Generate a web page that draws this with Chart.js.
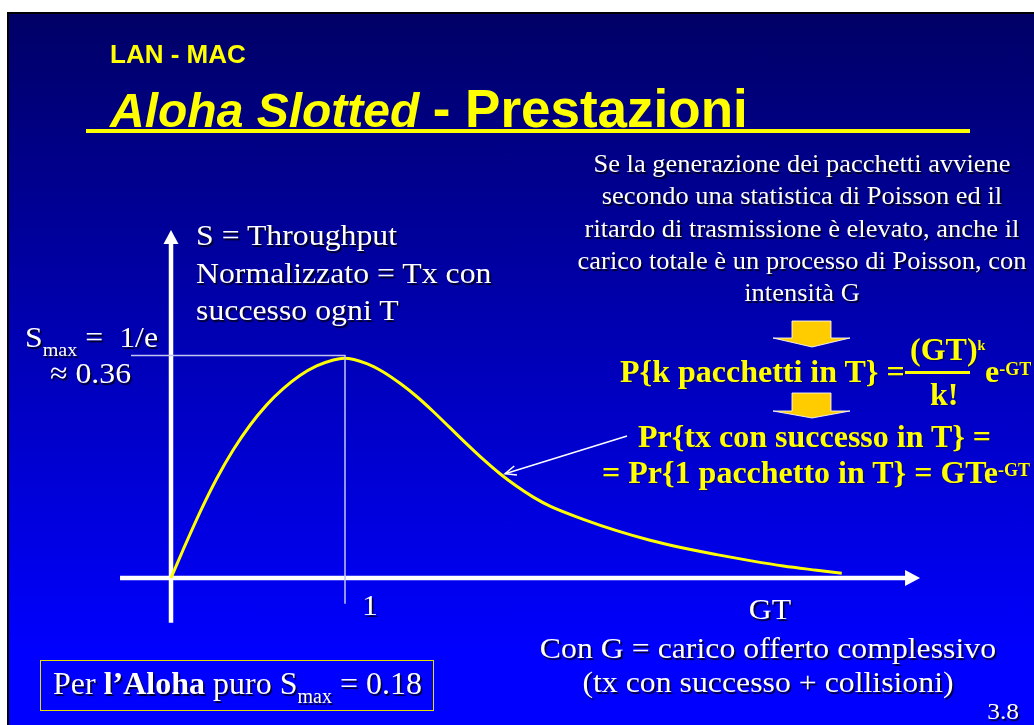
<!DOCTYPE html>
<html>
<head>
<meta charset="utf-8">
<script src="https://cdn.jsdelivr.net/npm/chart.js@4.4.1/dist/chart.umd.min.js"></script>
<style>
  html, body { margin: 0; padding: 0; width: 1034px; height: 725px; overflow: hidden; background: #fff; }
  #slide { position: absolute; left: 7px; top: 12px; right: 0; bottom: 0;
    border-left: 2px solid #000; border-top: 2px solid #000;
    background: linear-gradient(180deg, #000066 0%, #0000ff 90%); }
  #c { position: absolute; left: 0; top: 0; }
  .t { position: absolute; white-space: nowrap; }
  .sans { font-family: 'Liberation Sans', Arial, sans-serif; font-weight: bold; color: #ffff00; }
  .w { font-family: 'Liberation Serif', 'Times New Roman', serif; color: #fff;
    text-shadow: 1.5px 1.5px 1px rgba(0,0,0,0.85); transform: scaleX(1.06); transform-origin: left top; }
  .wc { text-align: center; transform-origin: center top; }
  .y { font-family: 'Liberation Serif', 'Times New Roman', serif; font-weight: bold; color: #ffff00;
    font-size: 32px; line-height: 40px; text-shadow: 1px 1px 1px rgba(0,0,60,0.6); }
  .sub, .sup { line-height: 0; }
</style>
</head>
<body>
<div id="slide"></div>
<canvas id="c" width="1034" height="725"></canvas>

<div class="t sans" style="left:110px; top:39px; font-size:26px; line-height:30px;">LAN - MAC</div>
<div class="t sans" style="left:110px; top:79px; font-size:53px; line-height:60px;"><i style="font-size:48px">Aloha Slotted </i>- Prestazioni</div>
<div class="t" style="left:86px; top:129px; width:884px; height:4px; background:#ffff00;"></div>

<div class="t w" style="left:196px; top:216px; font-size:30px; line-height:37.5px;">S = Throughput<br>Normalizzato = Tx con<br>successo ogni T</div>
<div class="t w" style="left:25px; top:319px; font-size:30px; line-height:36px;">S<span class="sub" style="font-size:19px; vertical-align:-9px">max</span> =&nbsp; 1/e</div>
<div class="t w" style="left:50px; top:355px; font-size:30px; line-height:36px;">≈ 0.36</div>
<div class="t w" style="left:362px; top:587px; font-size:30px; line-height:36px;">1</div>
<div class="t w wc" style="left:670px; top:591px; width:200px; font-size:30px; line-height:36px;">GT</div>
<div class="t w wc" style="left:468px; top:631px; width:600px; font-size:30px; line-height:34px;">Con G = carico offerto complessivo<br>(tx con successo + collisioni)</div>
<div class="t w wc" style="left:562px; top:148px; width:480px; font-size:25px; line-height:32.3px;">Se la generazione dei pacchetti avviene<br>secondo una statistica di Poisson ed il<br>ritardo di trasmissione è elevato, anche il<br>carico totale è un processo di Poisson, con<br>intensità G</div>

<div class="t" style="left:40px; top:660px; width:392px; height:49px; border:1.5px solid #e6e000;"></div>
<div class="t w" style="left:53px; top:663px; font-size:32px; line-height:40px; transform:none;">Per <b>l’Aloha</b> puro S<span class="sub" style="font-size:20px; vertical-align:-9px">max</span> = 0.18</div>
<div class="t w" style="right:15px; top:696px; font-size:24px; line-height:30px; transform-origin:right top;">3.8</div>

<svg class="t" style="left:0; top:0;" width="1034" height="725">
  <polygon points="792,321 831,321 831,338 850,338 812,347 773,338 792,338" fill="#ffcc00" stroke="rgba(255,255,255,0.85)" stroke-width="1"/>
  <polygon points="792,393 831,393 831,411 850,411 812,418 773,411 792,411" fill="#ffcc00" stroke="rgba(255,255,255,0.85)" stroke-width="1"/>
</svg>

<div class="t y" style="left:620px; top:351px;">P{k pacchetti in T} =</div>
<div class="t y" style="left:910px; top:329px;">(GT)<span class="sup" style="font-size:14px; vertical-align:10px">k</span></div>
<div class="t" style="left:905px; top:371px; width:65px; height:2.5px; background:#ffff00;"></div>
<div class="t y" style="left:930px; top:374px;">k!</div>
<div class="t y" style="left:985px; top:351px;">e<span class="sup" style="font-size:18px; vertical-align:7px">-GT</span></div>
<div class="t y" style="left:638px; top:416px;">Pr{tx con successo in T} =</div>
<div class="t y" style="left:602px; top:452px;">= Pr{1 pacchetto in T} = GTe<span class="sup" style="font-size:18px; vertical-align:7px">-GT</span></div>

<script>
// S = G e^-G (G in units of T)
const gtValues = [0, 0.071, 0.167, 0.263, 0.358, 0.454, 0.550, 0.645, 0.741, 0.837, 0.933, 0.996,
  1.125, 1.220, 1.316, 1.412, 1.507, 1.603, 1.699, 1.795, 1.891, 1.987, 2.082, 2.178,
  2.370, 2.561, 2.753, 2.944, 3.136, 3.328, 3.519, 3.711, 3.855];
const throughput = [0, 0.048, 0.110, 0.166, 0.214, 0.255, 0.289, 0.316, 0.338, 0.354, 0.364, 0.367,
  0.358, 0.344, 0.325, 0.303, 0.278, 0.251, 0.224, 0.198, 0.174, 0.153, 0.135, 0.120,
  0.098, 0.079, 0.063, 0.050, 0.039, 0.029, 0.020, 0.013, 0.008];

// guide lines to the maximum (G = 1, S = 1/e)
const guideGT = [-0.23, 1, 1];
const guideS = [0.3715, 0.3715, -0.043];

// axes with arrow heads, and the pointer from the formula to the curve
const xAxisRange = [-0.293, 4.305];
const yAxisRange = [-0.0746, 0.581];
const pointerFrom = [2.621, 0.237];
const pointerTo = [1.92, 0.174];

const toPoints = (xs, ys) => xs.map((v, i) => ({ x: v, y: ys[i] }));

const arrowsPlugin = {
  id: 'arrows',
  beforeDatasetsDraw(chart) {
    const { ctx, scales: { x, y } } = chart;
    const x0 = x.getPixelForValue(0);
    const y0 = y.getPixelForValue(0);
    ctx.save();
    ctx.strokeStyle = '#ffffff';
    ctx.fillStyle = '#ffffff';
    ctx.lineWidth = 4.5;

    const xs = x.getPixelForValue(xAxisRange[0]);
    const xe = x.getPixelForValue(xAxisRange[1]);
    ctx.beginPath();
    ctx.moveTo(xs, y0);
    ctx.lineTo(xe - 14, y0);
    ctx.stroke();
    ctx.beginPath();
    ctx.moveTo(xe, y0);
    ctx.lineTo(xe - 15, y0 - 8);
    ctx.lineTo(xe - 15, y0 + 8);
    ctx.closePath();
    ctx.fill();

    const ys = y.getPixelForValue(yAxisRange[0]);
    const ye = y.getPixelForValue(yAxisRange[1]);
    ctx.beginPath();
    ctx.moveTo(x0, ys);
    ctx.lineTo(x0, ye + 13);
    ctx.stroke();
    ctx.beginPath();
    ctx.moveTo(x0, ye);
    ctx.lineTo(x0 - 7.5, ye + 14);
    ctx.lineTo(x0 + 7.5, ye + 14);
    ctx.closePath();
    ctx.fill();
    ctx.restore();
  },
  afterDatasetsDraw(chart) {
    const { ctx, scales: { x, y } } = chart;
    const fx = x.getPixelForValue(pointerFrom[0]), fy = y.getPixelForValue(pointerFrom[1]);
    const tx = x.getPixelForValue(pointerTo[0]), ty = y.getPixelForValue(pointerTo[1]);
    const ang = Math.atan2(ty - fy, tx - fx);
    ctx.save();
    ctx.strokeStyle = '#ffffff';
    ctx.lineWidth = 1.5;
    ctx.beginPath();
    ctx.moveTo(fx, fy);
    ctx.lineTo(tx, ty);
    ctx.stroke();
    ctx.beginPath();
    ctx.moveTo(tx - 12 * Math.cos(ang - 0.4), ty - 12 * Math.sin(ang - 0.4));
    ctx.lineTo(tx, ty);
    ctx.lineTo(tx - 12 * Math.cos(ang + 0.4), ty - 12 * Math.sin(ang + 0.4));
    ctx.stroke();
    ctx.restore();
  }
};

new Chart(document.getElementById('c'), {
  type: 'line',
  data: {
    datasets: [
      {
        label: 'max',
        data: toPoints(guideGT, guideS),
        borderColor: '#c4c4f0',
        borderWidth: 1.5,
        tension: 0,
        pointRadius: 0
      },
      {
        label: 'S',
        data: toPoints(gtValues, throughput),
        borderColor: '#ffff00',
        borderWidth: 3,
        cubicInterpolationMode: 'monotone',
        pointRadius: 0
      }
    ]
  },
  options: {
    responsive: false,
    animation: false,
    layout: { padding: 0 },
    plugins: { legend: { display: false }, tooltip: { enabled: false } },
    scales: {
      x: { type: 'linear', display: false, min: -0.9828, max: 4.9598 },
      y: { type: 'linear', display: false, min: -0.2454, max: 0.9649 }
    }
  },
  plugins: [arrowsPlugin]
});
</script>
</body>
</html>
